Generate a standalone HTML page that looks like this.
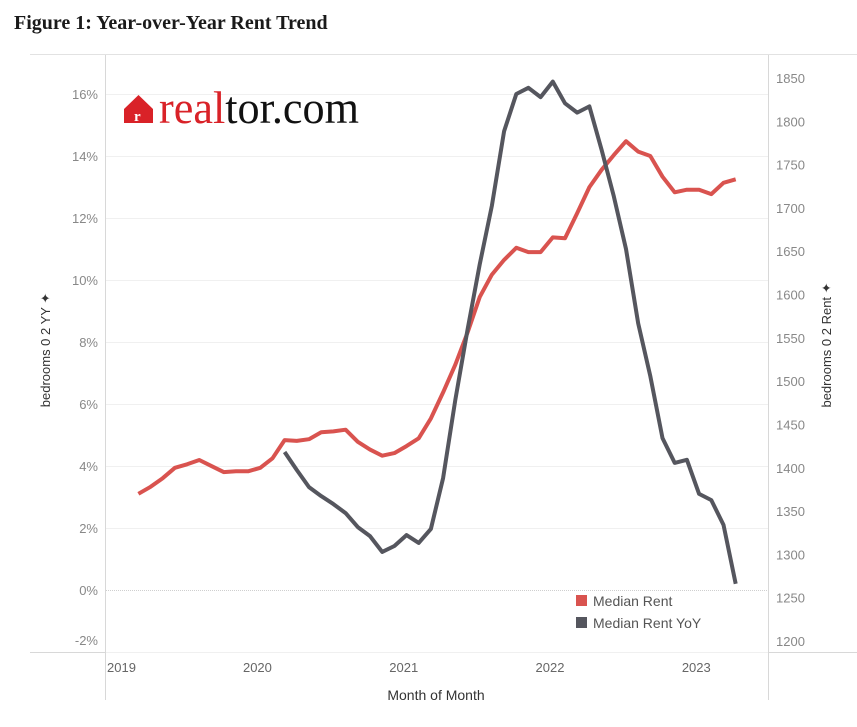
<!DOCTYPE html>
<html><head><meta charset="utf-8"><style>
body{margin:0;background:#fff;width:857px;height:722px;overflow:hidden;font-family:"Liberation Sans",sans-serif}
</style></head><body>
<svg width="857" height="722" xmlns="http://www.w3.org/2000/svg">
<text x="14" y="29" font-family="Liberation Serif,serif" font-weight="bold" font-size="20" fill="#1a1a1a">Figure 1: Year-over-Year Rent Trend</text>
<line x1="30" y1="54.5" x2="857" y2="54.5" stroke="#e2e2e2"/>
<line x1="105.5" y1="55" x2="105.5" y2="700" stroke="#d8d8d8"/>
<line x1="768.5" y1="55" x2="768.5" y2="700" stroke="#d8d8d8"/>
<line x1="30" y1="652.5" x2="857" y2="652.5" stroke="#d8d8d8"/>
<g id="grid"></g><g id="lt"></g><g id="rt"></g><g id="xt"></g><g id="lines"></g>
<g>
<polygon points="124,109 138.5,95 153,109 153,123 124,123" fill="#d92228"/>
<text x="134" y="121" font-family="Liberation Serif,serif" font-weight="bold" font-size="15" fill="#fff">r</text>
<text x="159" y="123" font-family="Liberation Serif,serif" font-size="46" textLength="200" lengthAdjust="spacingAndGlyphs" fill="#d92228">real<tspan fill="#111">tor.com</tspan></text>
</g>
<text transform="translate(50,350) rotate(-90)" text-anchor="middle" font-size="13" fill="#333">bedrooms 0 2 YY ✦</text>
<text transform="translate(831,345) rotate(-90)" text-anchor="middle" font-size="13" fill="#333">bedrooms 0 2 Rent ✦</text>
<text x="436" y="700" text-anchor="middle" font-size="14" fill="#333">Month of Month</text>
<g>
<rect x="576" y="595" width="11" height="11" fill="#d9534f"/>
<text x="593" y="606" font-size="14" fill="#555">Median Rent</text>
<rect x="576" y="617" width="11" height="11" fill="#55565e"/>
<text x="593" y="628" font-size="14" fill="#555">Median Rent YoY</text>
</g>
</svg>
<script>
const leftTicks=[-2,0,2,4,6,8,10,12,14,16];
const rightTicks=[1200,1250,1300,1350,1400,1450,1500,1550,1600,1650,1700,1750,1800,1850];
const yearLabels=["2019","2020","2021","2022","2023"];
const rentStart=3;
const rentValues=[1370,1378,1388,1400,1404,1409,1402,1395,1396,1396,1400,1411,1432,1431,1433,1441,1442,1444,1430,1421,1414,1417,1425,1434,1457,1487,1519,1556,1597,1623,1640,1654,1649,1649,1666,1665,1694,1724,1744,1761,1777,1765,1760,1736,1718,1721,1721,1716,1729,1733];
const yoyStart=15;
const yoyValues=[4.45,3.87,3.32,3.03,2.77,2.48,2.03,1.74,1.23,1.42,1.77,1.52,1.97,3.61,6.13,8.39,10.5,12.4,14.8,16.0,16.2,15.9,16.4,15.7,15.4,15.6,14.2,12.7,11.0,8.6,6.9,4.9,4.1,4.2,3.1,2.9,2.1,0.2];
const NS="http://www.w3.org/2000/svg";
const xM=i=>95.7+(i+0.5)*12.19;
const xY=k=>95.7+k*12*12.19;
const yL=v=>590-v*31;
const yR=v=>78+(1850-v)*0.8662;
function mk(tag,attrs,parent,txt){const e=document.createElementNS(NS,tag);for(const k in attrs)e.setAttribute(k,attrs[k]);if(txt!=null)e.textContent=txt;document.getElementById(parent).appendChild(e);return e;}
leftTicks.forEach(t=>{
  const g=mk('line',{x1:106,x2:768,y1:yL(t)+.5,y2:yL(t)+.5,stroke:t===0?'#cfcfcf':'#f0f0f0','stroke-dasharray':t===0?'1,1':'none'},'grid');
  
  
  const ly=Math.min(yL(t)+5,645);
  const l=mk('text',{x:98,y:ly,'text-anchor':'end','font-size':13,fill:'#888'},'lt',t+'%');
  
  
});
rightTicks.forEach(t=>{
  const l=mk('text',{x:776,y:yR(t)+5,'font-size':13,fill:'#888'},'rt',t);
  
  
});
yearLabels.forEach((y,k)=>{
  const x=Math.max(107,xY(k)+1);
  const l=mk('text',{x:x,y:672,'font-size':13,fill:'#666'},'xt',y);
  
  
});
const rp=mk('path',{d:rentValues.map((v,i)=>(i?'L':'M')+xM(rentStart+i).toFixed(1)+','+yR(v).toFixed(1)).join(''),fill:'none',stroke:'#d9534f','stroke-width':4,'stroke-linejoin':'round'},'lines');


const gp=mk('path',{d:yoyValues.map((v,i)=>(i?'L':'M')+xM(yoyStart+i).toFixed(1)+','+yL(v).toFixed(1)).join(''),fill:'none',stroke:'#55565e','stroke-width':4,'stroke-linejoin':'round'},'lines');


</script>
</body></html>
